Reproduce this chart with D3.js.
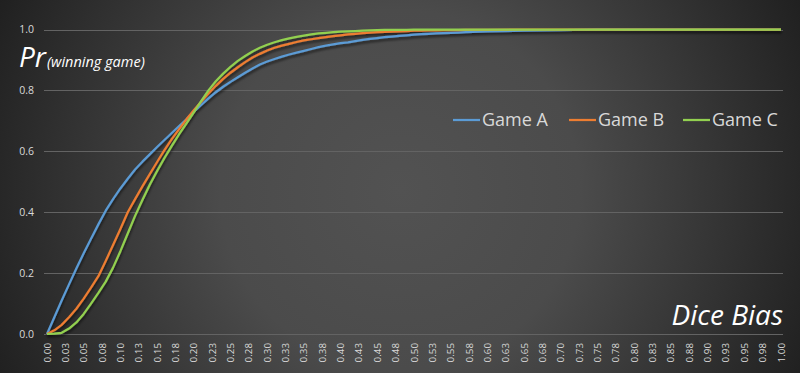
<!doctype html>
<html lang="en">
<head>
  <meta charset="utf-8" />
  <title>Pr (winning game) vs Dice Bias</title>
  <script src="https://d3js.org/d3.v7.min.js"></script>
  <style>
    body { margin: 0; background: #2a2a2a; }
    svg { display: block; }
  </style>
</head>
<body>
  <div id="chart"></div>
  <script>
    const bias = [0.00, 0.01, 0.02, 0.03, 0.04, 0.05, 0.06, 0.07, 0.08, 0.09,
      0.10, 0.11, 0.12, 0.13, 0.14, 0.15, 0.16, 0.17, 0.18, 0.19,
      0.20, 0.21, 0.22, 0.23, 0.24, 0.25, 0.26, 0.27, 0.28, 0.29,
      0.30, 0.31, 0.32, 0.33, 0.34, 0.35, 0.36, 0.37, 0.38, 0.39,
      0.40, 0.41, 0.42, 0.43, 0.44, 0.45, 0.46, 0.47, 0.48, 0.49,
      0.50, 0.51, 0.52, 0.53, 0.54, 0.55, 0.56, 0.57, 0.58, 0.59,
      0.60, 0.65, 0.70, 0.75, 0.80, 0.85, 0.90, 0.95, 1.00];

    const gameA = [0, 0.055, 0.11, 0.163, 0.215, 0.265, 0.313, 0.36, 0.405, 0.443,
      0.478, 0.51, 0.54, 0.566, 0.59, 0.614, 0.637, 0.66, 0.683, 0.705,
      0.73, 0.752, 0.774, 0.794, 0.812, 0.828, 0.843, 0.858, 0.872, 0.885,
      0.895, 0.903, 0.911, 0.918, 0.924, 0.93, 0.936, 0.942, 0.947, 0.951,
      0.955, 0.958, 0.962, 0.966, 0.969, 0.972, 0.975, 0.977, 0.979, 0.981,
      0.983, 0.985, 0.986, 0.987, 0.988, 0.989, 0.99, 0.991, 0.992, 0.993,
      0.994, 0.996, 0.998, 1, 1, 1, 1, 1, 1];

    const gameB = [0, 0.012, 0.03, 0.055, 0.083, 0.116, 0.152, 0.19, 0.24, 0.292,
      0.345, 0.4, 0.443, 0.485, 0.525, 0.565, 0.604, 0.64, 0.673, 0.705,
      0.735, 0.763, 0.79, 0.815, 0.838, 0.858, 0.876, 0.893, 0.908, 0.92,
      0.931, 0.94, 0.947, 0.953, 0.959, 0.964, 0.968, 0.972, 0.975, 0.978,
      0.981, 0.984, 0.986, 0.988, 0.99, 0.991, 0.992, 0.993, 0.994, 0.995,
      0.996, 0.996, 0.997, 0.997, 0.998, 0.998, 0.998, 0.999, 0.999, 0.999,
      0.999, 1, 1, 1, 1, 1, 1, 1, 1];

    const gameC = [0, 0.001, 0.004, 0.018, 0.038, 0.066, 0.1, 0.135, 0.172, 0.218,
      0.272, 0.33, 0.388, 0.44, 0.49, 0.535, 0.578, 0.618, 0.656, 0.692,
      0.728, 0.765, 0.8, 0.83, 0.855, 0.877, 0.897, 0.913, 0.928, 0.94,
      0.95, 0.958, 0.965, 0.971, 0.976, 0.98, 0.984, 0.987, 0.989, 0.991,
      0.993, 0.994, 0.995, 0.996, 0.997, 0.998, 0.999, 0.999, 0.999, 0.999,
      1, 1, 1, 1, 1, 1, 1, 1, 1, 1,
      1, 1, 1, 1, 1, 1, 1, 1, 1];

    const seriesNames = ["Game A", "Game B", "Game C"];
    const seriesColors = ["#5b9bd5", "#ed7d31", "#92d050"];

    // category labels shown under the x axis, one every 0.025
    const xTickLabels = ["0.00", "0.03", "0.05", "0.08", "0.10", "0.13", "0.15", "0.18", "0.20", "0.23",
      "0.25", "0.28", "0.30", "0.33", "0.35", "0.38", "0.40", "0.43", "0.45", "0.48",
      "0.50", "0.53", "0.55", "0.58", "0.60", "0.63", "0.65", "0.68", "0.70", "0.73",
      "0.75", "0.78", "0.80", "0.83", "0.85", "0.88", "0.90", "0.93", "0.95", "0.98", "1.00"];
    const yTicks = [0, 0.2, 0.4, 0.6, 0.8, 1.0];

    const width = 800, height = 373;

    const svg = d3.select("#chart").append("svg")
      .attr("width", width)
      .attr("height", height);

    const defs = svg.append("defs");
    const bg = defs.append("radialGradient")
      .attr("id", "bg")
      .attr("gradientUnits", "userSpaceOnUse")
      .attr("cx", 400).attr("cy", 190).attr("r", 450);
    bg.append("stop").attr("offset", "0").attr("stop-color", "#525252");
    bg.append("stop").attr("offset", "0.4").attr("stop-color", "#4b4b4b");
    bg.append("stop").attr("offset", "1").attr("stop-color", "#1f1f1f");

    const shadow = defs.append("filter")
      .attr("id", "shadow")
      .attr("x", "-5%").attr("y", "-5%").attr("width", "110%").attr("height", "120%");
    shadow.append("feDropShadow")
      .attr("dx", 0.5).attr("dy", 2.5)
      .attr("stdDeviation", 1.2)
      .attr("flood-color", "#000")
      .attr("flood-opacity", 0.55);

    svg.append("rect")
      .attr("width", width).attr("height", height)
      .attr("fill", "url(#bg)");

    const x = d3.scaleLinear().domain([0, 1]).range([47, 781]);
    const y = d3.scaleLinear().domain([0, 1]).range([334, 29.5]);

    // gridlines
    svg.append("g")
      .selectAll("line")
      .data(yTicks)
      .join("line")
      .attr("x1", 44).attr("x2", 783)
      .attr("y1", d => Math.round(y(d)) + 0.5)
      .attr("y2", d => Math.round(y(d)) + 0.5)
      .attr("stroke", "#636363")
      .attr("stroke-width", 1);

    // y tick labels
    svg.append("g")
      .selectAll("text")
      .data(yTicks)
      .join("text")
      .attr("x", 34)
      .attr("y", d => y(d))
      .attr("dy", "0.35em")
      .attr("text-anchor", "end")
      .style("font-family", "'Open Sans', sans-serif")
      .style("font-size", "10.5px")
      .attr("fill", "#d9d9d9")
      .text(d => d3.format(".1f")(d));

    // x tick labels, rotated
    svg.append("g")
      .selectAll("text")
      .data(xTickLabels)
      .join("text")
      .attr("transform", (d, i) => `translate(${x(i / (xTickLabels.length - 1))}, 343) rotate(-90)`)
      .attr("dy", "0.36em")
      .attr("text-anchor", "end")
      .style("font-family", "'Open Sans', sans-serif")
      .style("font-size", "9.8px")
      .attr("fill", "#d9d9d9")
      .text(d => d);

    // lines
    const line = d3.line()
      .x((d, i) => x(bias[i]))
      .y(d => y(d));

    const allSeries = [gameA, gameB, gameC];
    svg.append("g")
      .attr("filter", "url(#shadow)")
      .selectAll("path")
      .data(allSeries)
      .join("path")
      .attr("d", line)
      .attr("fill", "none")
      .attr("stroke", (d, i) => seriesColors[i])
      .attr("stroke-width", 2.25)
      .attr("stroke-linejoin", "round");

    // legend
    const legendX = [453, 569, 683];
    const legendG = svg.append("g");
    legendG.selectAll("line")
      .data(seriesNames)
      .join("line")
      .attr("x1", (d, i) => legendX[i])
      .attr("x2", (d, i) => legendX[i] + 27)
      .attr("y1", 120).attr("y2", 120)
      .attr("stroke", (d, i) => seriesColors[i])
      .attr("stroke-width", 2.25);
    legendG.selectAll("text")
      .data(seriesNames)
      .join("text")
      .attr("x", (d, i) => legendX[i] + 29)
      .attr("y", 126)
      .style("font-family", "'Open Sans', sans-serif")
      .style("font-size", "18px")
      .attr("fill", "#d9d9d9")
      .text(d => d);

    // axis titles
    const yTitle = svg.append("text")
      .attr("x", 19).attr("y", 67)
      .style("font-family", "'Open Sans', sans-serif")
      .style("font-style", "italic")
      .attr("fill", "#ffffff");
    yTitle.append("tspan").style("font-size", "28px").text("Pr");
    yTitle.append("tspan").attr("dx", 1).style("font-size", "14.5px").text("(winning game)");

    svg.append("text")
      .attr("x", 783).attr("y", 325)
      .attr("text-anchor", "end")
      .style("font-family", "'Open Sans', sans-serif")
      .style("font-style", "italic")
      .style("font-size", "28px")
      .attr("fill", "#ffffff")
      .text("Dice Bias");
  </script>
</body>
</html>
